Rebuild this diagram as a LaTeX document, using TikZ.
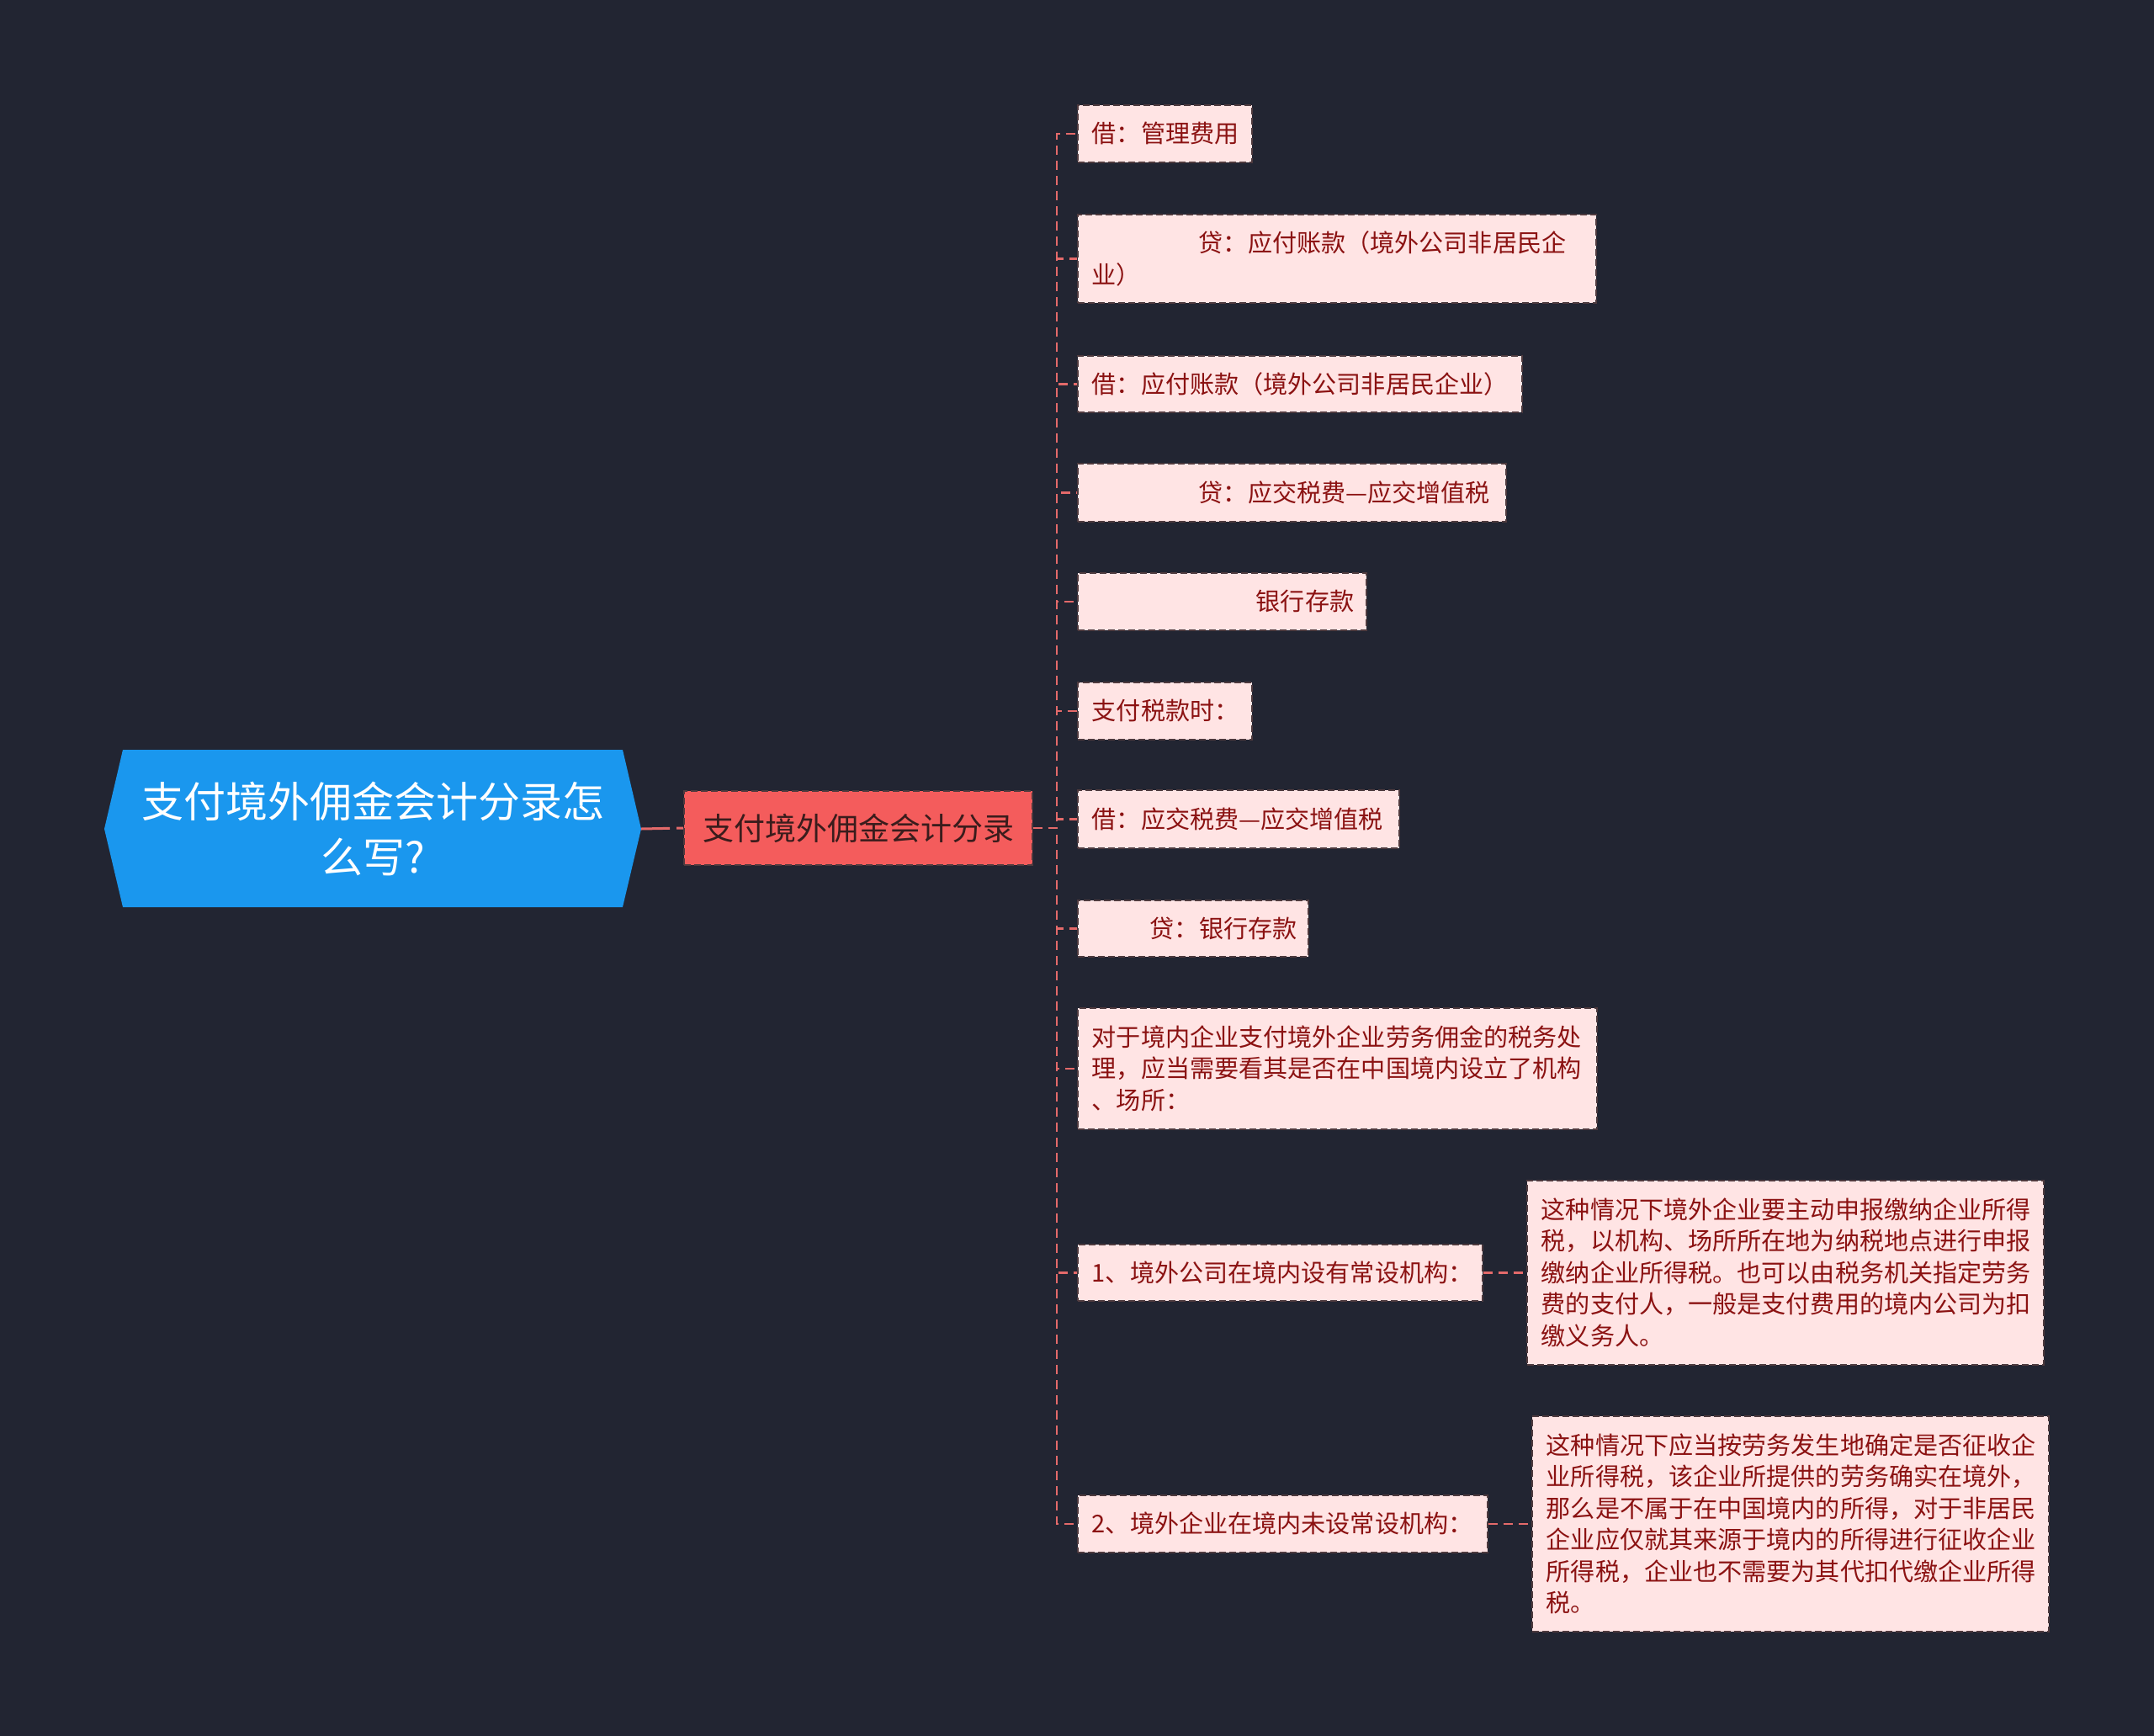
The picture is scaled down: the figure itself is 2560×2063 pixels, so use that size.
\documentclass[tikz,border=0pt]{standalone}
\usepackage{fontspec}
\setmainfont{Noto Sans CJK SC}
\definecolor{bgc}{HTML}{222532}
\definecolor{rootblue}{HTML}{1A97EE}
\definecolor{redfill}{HTML}{F45C5C}
\definecolor{pinkfill}{HTML}{FFE4E4}
\definecolor{childtxt}{HTML}{8B1212}
\definecolor{bordc}{HTML}{4E3A3E}
\definecolor{linkc}{HTML}{E46A6A}
\definecolor{redtxt}{HTML}{3A1C1C}
\tikzset{
  x=1pt, y=-1pt,
  childbox/.style={draw=bordc, line width=1.6pt, dash pattern=on 8pt off 4pt,
    fill=pinkfill, text=childtxt, anchor=north west, inner xsep=17pt, inner ysep=0pt,
    align=left, font=\fontsize{29.1}{37.5}\selectfont},
  link/.style={draw=linkc, line width=2.4pt, dash pattern=on 11pt off 7pt},
  roottext/.style={text=white, align=center, inner sep=0pt, minimum width=638pt,
    minimum height=187pt, font=\fontsize{50}{66}\selectfont},
  redbox/.style={draw=bordc, line width=1.6pt, dash pattern=on 8pt off 4pt,
    fill=redfill, text=redtxt, inner sep=0pt, minimum width=414pt, minimum height=88pt,
    font=\fontsize{37}{44}\selectfont}
}
\begin{document}
\begin{tikzpicture}
\useasboundingbox (0,0) rectangle (2560,2063);
\fill[bgc] (0,0) rectangle (2560,2063);
% root hexagon
\fill[rootblue] (124,985) -- (146,891) -- (740,891) -- (762,985) -- (740,1078) -- (146,1078) -- cycle;
\node[roottext] (root) at (443,985) {支付境外佣金会计分录怎\\么写?};
\node[redbox] (main) at (1020,984) {支付境外佣金会计分录};

\node[childbox, text width=173pt, minimum height=68pt] (n1) at (1280,124) {借：管理费用};
\node[childbox, text width=582pt, minimum height=105pt] (n2) at (1280,254) {\hspace*{127pt}贷：应付账款（境外公司非居民企\\业）};
\node[childbox, text width=494pt, minimum height=67pt] (n3) at (1280,422) {借：应付账款（境外公司非居民企业）};
\node[childbox, text width=475pt, minimum height=69pt] (n4) at (1280,550) {\hspace*{127pt}贷：应交税费—应交增值税};
\node[childbox, text width=309pt, minimum height=68pt] (n5) at (1280,680) {\hspace*{195pt}银行存款};
\node[childbox, text width=173pt, minimum height=68pt] (n6) at (1280,810) {支付税款时：};
\node[childbox, text width=348pt, minimum height=69pt] (n7) at (1280,938) {借：应交税费—应交增值税};
\node[childbox, text width=240pt, minimum height=67pt] (n8) at (1280,1069) {\hspace*{69pt}贷：银行存款};
\node[childbox, text width=583pt, minimum height=144pt] (n9) at (1280,1197) {对于境内企业支付境外企业劳务佣金的税务处\\理，应当需要看其是否在中国境内设立了机构\\、场所：};
\node[childbox, text width=447pt, minimum height=67pt] (n10) at (1280,1478) {1、境外公司在境内设有常设机构：};
\node[childbox, text width=453pt, minimum height=68pt] (n11) at (1280,1776) {2、境外企业在境内未设常设机构：};
\node[childbox, text width=580pt, minimum height=219pt] (r10) at (1814,1402) {这种情况下境外企业要主动申报缴纳企业所得\\税，以机构、场所所在地为纳税地点进行申报\\缴纳企业所得税。也可以由税务机关指定劳务\\费的支付人，一般是支付费用的境内公司为扣\\缴义务人。};
\node[childbox, text width=580pt, minimum height=256pt] (r11) at (1820,1682) {这种情况下应当按劳务发生地确定是否征收企\\业所得税，该企业所提供的劳务确实在境外，\\那么是不属于在中国境内的所得，对于非居民\\企业应仅就其来源于境内的所得进行征收企业\\所得税，企业也不需要为其代扣代缴企业所得\\税。};

\draw[draw=linkc, line width=3pt, dash pattern=on 34pt off 8pt] (root.east) -- (main.west);
\foreach \n in {n1,n2,n3,n4,n5,n6,n7,n8,n9,n10,n11}{
  \draw[link] (main.east) -- ++(28,0) |- (\n.west);
}
\draw[link] (n10.east) -- (r10.west);
\draw[link] (n11.east) -- (r11.west);
\end{tikzpicture}
\end{document}
